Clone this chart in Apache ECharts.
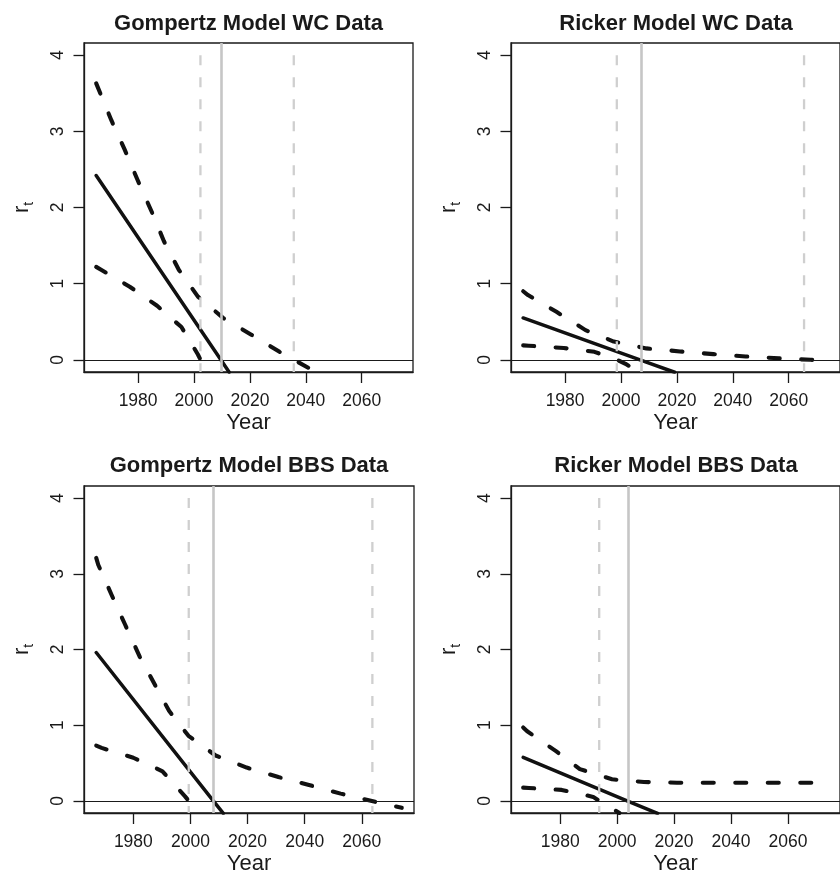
<!DOCTYPE html>
<html><head><meta charset="utf-8">
<script src="https://cdn.jsdelivr.net/npm/echarts@6/dist/echarts.min.js"></script>
<style>html,body{margin:0;padding:0;background:#fff}#c{width:840px;height:876px}</style>
</head><body><div id="c"></div>
<script>
// ---- data ----
const panelTitles = ['Gompertz Model WC Data', 'Ricker Model WC Data', 'Gompertz Model BBS Data', 'Ricker Model BBS Data'];
const xTicks = [1980, 2000, 2020, 2040, 2060];
const yTicks = [0, 1, 2, 3, 4];
const xLimits = [[1960.64, 2078.36], [1960.64, 2078.36], [1962.72, 2078.28], [1962.72, 2078.28]];
const yLimits = [-0.16, 4.16];

// Gompertz, WC data
const gompWCEstimate = [[1965, 2.42], [2009.6, 0], [2012.6, -0.163]];
const gompWCUpper = [[1965, 3.63], [1970.5, 3.14], [1975.2, 2.76], [1979.7, 2.37], [1985.4, 1.90], [1989.2, 1.56], [1994.6, 1.18], [2001.4, 0.83], [2010.4, 0.55], [2020.5, 0.33], [2030.6, 0.105], [2040.7, -0.10], [2043.5, -0.16]];
const gompWCLower = [[1965, 1.22], [1966.9, 1.18], [1977.0, 0.96], [1986.8, 0.71], [1995.5, 0.43], [2001.4, 0.07], [2004.5, -0.16]];
const gompWCCrossEstimate = 2009.8;
const gompWCCrossCI = [2002.3, 2035.7];

// Ricker, WC data
const rickWCEstimate = [[1965, 0.55], [2006.8, 0], [2019.2, -0.163]];
const rickWCUpper = [[1965, 0.90], [1966.7, 0.85], [1976.9, 0.63], [1987.3, 0.39], [1997.4, 0.24], [2009.1, 0.15], [2021.1, 0.11], [2033.0, 0.075], [2044.6, 0.044], [2056.5, 0.02], [2067.9, 0.0], [2074, -0.015]];
const rickWCLower = [[1965, 0.19], [1967, 0.185], [1979.5, 0.155], [1990.5, 0.105], [1998.5, 0.0], [2001.6, -0.053], [2006.5, -0.16]];
const rickWCCrossEstimate = 2007.2;
const rickWCCrossCI = [1998.5, 2065.5];

// Gompertz, BBS data
const gompBBSEstimate = [[1967, 1.96], [2008.0, 0], [2011.5, -0.165]];
const gompBBSUpper = [[1967, 3.21], [1967.7, 3.12], [1972.4, 2.72], [1977.1, 2.33], [1982.3, 1.90], [1987.6, 1.53], [1992.5, 1.19], [1999.3, 0.86], [2008.8, 0.60], [2019.7, 0.44], [2030.8, 0.315], [2041.5, 0.21], [2052.6, 0.096], [2064.3, -0.009], [2074, -0.092]];
const gompBBSLower = [[1967, 0.73], [1968.9, 0.70], [1980.0, 0.57], [1990.2, 0.39], [1998.1, 0.06], [1999.4, 0], [2002.6, -0.16]];
const gompBBSCrossEstimate = 2008.1;
const gompBBSCrossCI = [1999.4, 2063.7];

// Ricker, BBS data
const rickBBSEstimate = [[1967, 0.575], [2003.5, 0], [2014.2, -0.165]];
const rickBBSUpper = [[1967, 0.97], [1968.4, 0.92], [1978.4, 0.66], [1986.9, 0.42], [1998.2, 0.285], [2009.4, 0.25], [2021, 0.24], [2040, 0.24], [2060, 0.24], [2074, 0.24]];
const rickBBSLower = [[1967, 0.175], [1969, 0.17], [1980.5, 0.145], [1991.6, 0.053], [1993.7, 0.0], [1999.8, -0.136], [2000.8, -0.16]];
const rickBBSCrossEstimate = 2003.9;
const rickBBSCrossCI = [1993.7];

// ---- layout / style ----
const FONT = 'Liberation Sans, Arial, Helvetica, sans-serif';
const INK = '#1a1a1a';
const grids = [
  {left: 84, top: 43, width: 329, height: 329},
  {left: 511, top: 43, width: 330, height: 329},
  {left: 84, top: 486, width: 330, height: 328},
  {left: 511, top: 486, width: 330, height: 328}
];
const titleTops = [8, 8, 450, 450];

const panels = [
  {est: gompWCEstimate, up: gompWCUpper, lo: gompWCLower, cE: gompWCCrossEstimate, cCI: gompWCCrossCI},
  {est: rickWCEstimate, up: rickWCUpper, lo: rickWCLower, cE: rickWCCrossEstimate, cCI: rickWCCrossCI},
  {est: gompBBSEstimate, up: gompBBSUpper, lo: gompBBSLower, cE: gompBBSCrossEstimate, cCI: gompBBSCrossCI},
  {est: rickBBSEstimate, up: rickBBSUpper, lo: rickBBSLower, cE: rickBBSCrossEstimate, cCI: rickBBSCrossCI}
];

const title = panelTitles.map((t, i) => ({
  text: t,
  left: grids[i].left + grids[i].width / 2 - 5,
  top: titleTops[i],
  textAlign: 'center',
  textStyle: {fontSize: 22, fontWeight: 'bold', fontFamily: FONT, color: INK}
}));

const xAxis = grids.map((g, i) => ({
  gridIndex: i, type: 'value', min: xLimits[i][0], max: xLimits[i][1],
  axisLine: {show: true, onZero: false, lineStyle: {color: INK, width: 1.3}},
  axisTick: {show: true, inside: false, length: 11, customValues: xTicks, lineStyle: {color: INK, width: 1.3}},
  axisLabel: {customValues: xTicks, fontSize: 17.5, fontFamily: FONT, color: INK, margin: 20,
    hideOverlap: false, formatter: v => String(v)},
  splitLine: {show: false},
  name: 'Year', nameLocation: 'middle', nameGap: 40,
  nameTextStyle: {fontSize: 22, fontFamily: FONT, color: INK}
}));

const yAxis = grids.map((g, i) => ({
  gridIndex: i, type: 'value', min: yLimits[0], max: yLimits[1],
  axisLine: {show: true, onZero: false, lineStyle: {color: INK, width: 1.3}},
  axisTick: {show: true, inside: false, length: 10.5, customValues: yTicks, lineStyle: {color: INK, width: 1.3}},
  axisLabel: {customValues: yTicks, rotate: 90, fontSize: 17.5, fontFamily: FONT, color: INK, margin: 17,
    hideOverlap: false, formatter: v => String(v)},
  splitLine: {show: false},
  name: '{r|r}{t|t}', nameLocation: 'middle', nameGap: 48, nameRotate: 90,
  nameTextStyle: {
    color: INK, fontFamily: FONT,
    rich: {
      r: {fontSize: 22, fontFamily: FONT, color: INK, lineHeight: 28, verticalAlign: 'middle'},
      t: {fontSize: 14, fontFamily: FONT, color: INK, lineHeight: 14, verticalAlign: 'bottom'}
    }
  }
}));

const series = [];
panels.forEach((p, i) => {
  const base = {type: 'line', xAxisIndex: i, yAxisIndex: i, symbol: 'none', showSymbol: false,
    clip: true, silent: true, animation: false, smooth: false};
  series.push(Object.assign({}, base, {
    name: 'estimate' + i, data: p.est, z: 2,
    lineStyle: {color: '#111', width: 3.5, cap: 'round', join: 'round'},
    markLine: {
      silent: true, symbol: ['none', 'none'], animation: false, label: {show: false},
      data: [
        {yAxis: 0, lineStyle: {color: INK, width: 1.1, type: 'solid'}},
        {xAxis: p.cE, lineStyle: {color: '#c6c6c6', width: 2.6, type: 'solid'}}
      ]
    }
  }));
  [p.up, p.lo].forEach((d, k) => {
    series.push(Object.assign({}, base, {
      name: (k ? 'lower' : 'upper') + i, data: d, z: 2,
      lineStyle: {color: '#111', width: 4.1, cap: 'round', join: 'round', type: [11, 21.5]}
    }));
  });
  p.cCI.forEach((yr, k) => {
    series.push(Object.assign({}, base, {
      name: 'ci' + i + '_' + k, data: [[yr, yTicks[yTicks.length - 1]], [yr, yLimits[0]]], z: 4,
      lineStyle: {color: '#cfcfcf', width: 2.3, type: [10, 12]}
    }));
  });
});

const chart = echarts.init(document.getElementById('c'), null, {renderer: 'canvas'});
chart.setOption({
  animation: false,
  backgroundColor: '#fff',
  title: title,
  grid: grids.map(g => Object.assign({show: true, borderColor: INK, borderWidth: 1.3, backgroundColor: 'transparent', containLabel: false}, g)),
  xAxis: xAxis,
  yAxis: yAxis,
  series: series
});
</script></body></html>
